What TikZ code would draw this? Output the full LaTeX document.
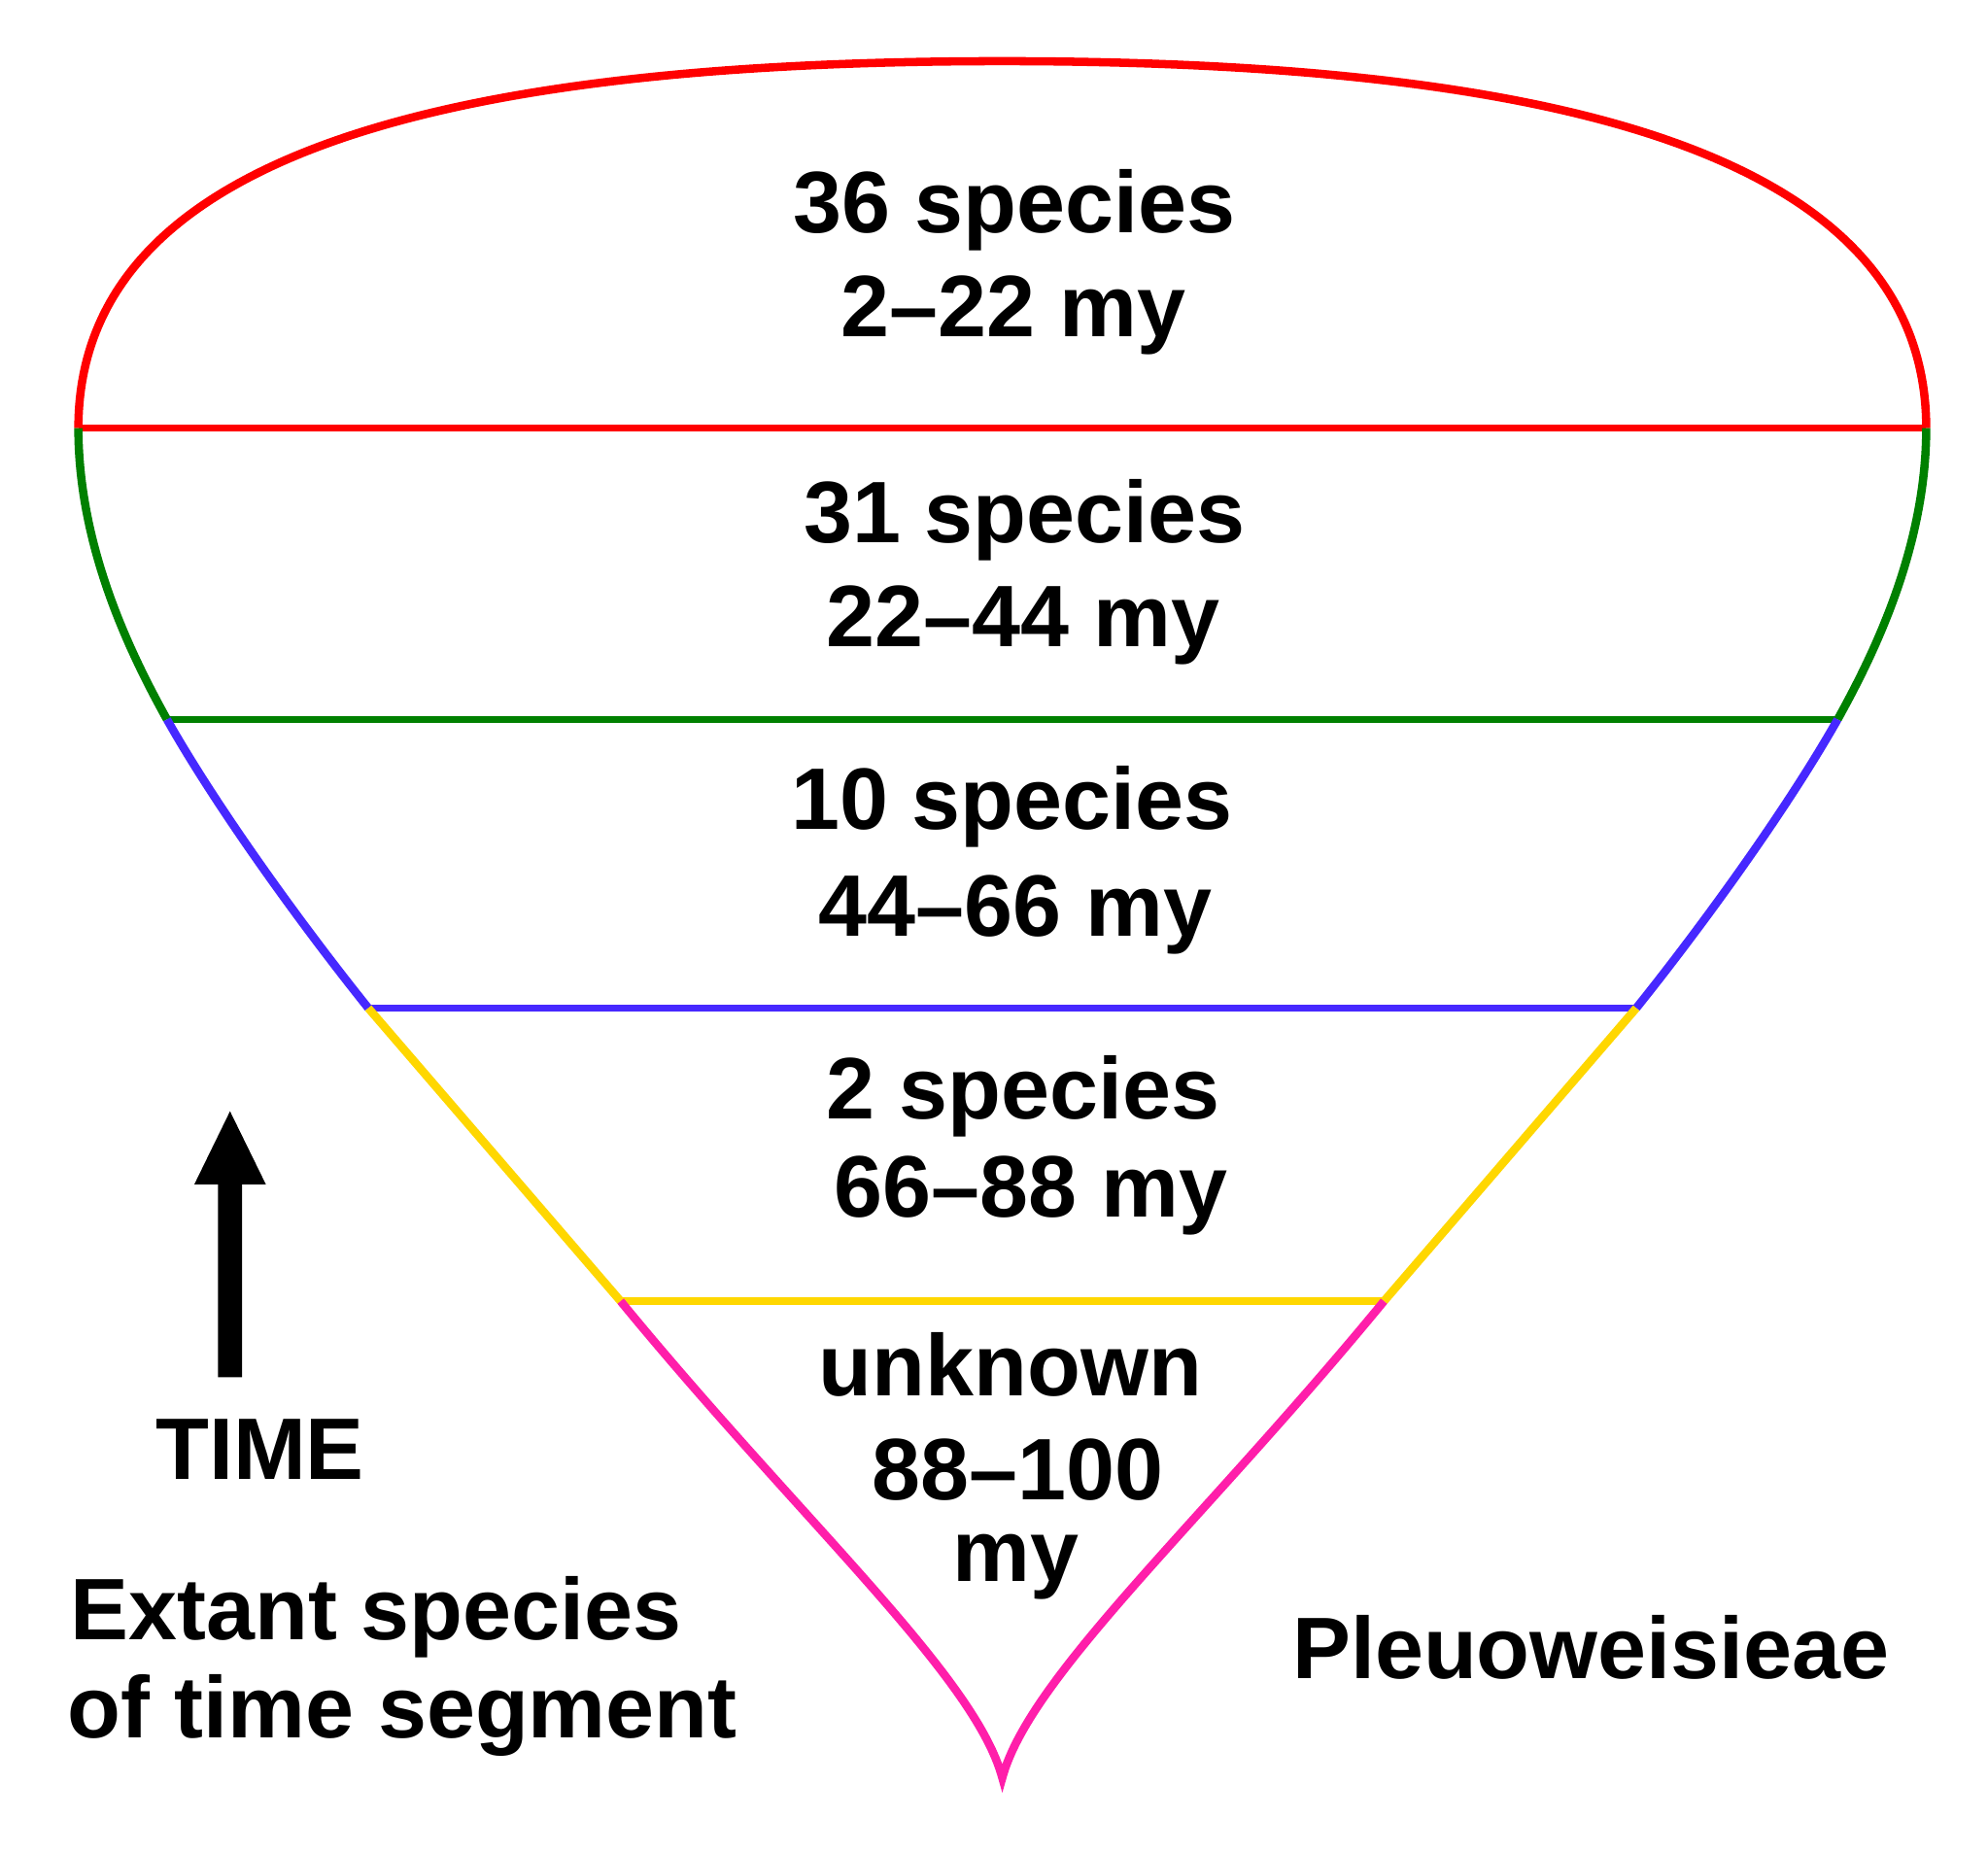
\documentclass[tikz,border=0pt]{standalone}
\usepackage{fontspec}
\setmainfont{Liberation Sans}
\definecolor{segred}{RGB}{255,0,0}
\definecolor{seggreen}{RGB}{0,128,0}
\definecolor{segblue}{RGB}{70,40,255}
\definecolor{segyellow}{RGB}{255,215,0}
\definecolor{segpink}{RGB}{255,30,170}
\begin{document}
\begin{tikzpicture}[x=1pt,y=-1pt,
  lbl/.style={font=\fontsize{68.5}{80}\selectfont\bfseries, inner sep=0pt, anchor=base},
  lbll/.style={lbl, anchor=base west},
  seg/.style={line width=6.5pt},
  band/.style={line width=5.5pt}]
\useasboundingbox (0,0) rectangle (1560,1453.3);
% corner coordinates
\coordinate (L0) at (61.5,336);
\coordinate (R0) at (1511.5,336);
\coordinate (L1) at (131,564.5);
\coordinate (R1) at (1442,564.5);
\coordinate (L2) at (289,791);
\coordinate (R2) at (1284,791);
\coordinate (L3) at (487,1021);
\coordinate (R3) at (1086,1021);
\coordinate (top) at (786.5,48);
\coordinate (tip) at (786.5,1395);
% red cap
\draw[seg, segred] (L0) .. controls (61.5,130) and (325,48) .. (top)
  .. controls (1248,48) and (1511.5,130) .. (R0);
\draw[band, segred] (L0) -- (R0);
% green
\draw[seg, seggreen] (L0) .. controls (61.5,430) and (103,514) .. (L1);
\draw[seg, seggreen] (R0) .. controls (1511.5,430) and (1470,514) .. (R1);
\draw[band, seggreen] (L1) -- (R1);
% blue
\draw[seg, segblue] (L1) .. controls (172,637) and (240,730) .. (L2);
\draw[seg, segblue] (R1) .. controls (1401,637) and (1333,730) .. (R2);
\draw[band, segblue] (L2) -- (R2);
% yellow
\draw[seg, segyellow] (L2) -- (L3);
\draw[seg, segyellow] (R2) -- (R3);
\draw[band, segyellow] (L3) -- (R3);
% pink
\draw[seg, segpink] (L3) .. controls (630,1195) and (765,1315) .. (tip)
  .. controls (808,1315) and (943,1195) .. (R3);
% labels
\node[lbl] (t1a) at (796,182.4) {36 species};
\node[lbl] (t1b) at (795.3,264) {2–22 my};
\node[lbl] (t2a) at (804,425.8) {31 species};
\node[lbl] (t2b) at (803,507.4) {22–44 my};
\node[lbl] (t3a) at (794,650.4) {10 species};
\node[lbl] (t3b) at (796.7,734.6) {44–66 my};
\node[lbl] (t4a) at (803,877.7) {2 species};
\node[lbl] (t4b) at (809,955.3) {66–88 my};
\node[lbl] (t5a) at (793,1095.1) {unknown};
\node[lbl] (t5b) at (798.7,1176.8) {88–100};
\node[lbl] (t5c) at (797,1240.9) {my};
\node[lbll] (time) at (122,1161) {TIME};
\node[lbll] (ext1) at (55,1286.7) {Extant species};
\node[lbll] (ext2) at (53,1364) {of time segment};
\node[lbll] (tribe) at (1014,1317) {Pleuoweisieae};
% time arrow
\fill[black] (171,1080.6) -- (171,929.3) -- (152.5,929.3) -- (180.5,872)
  -- (208.6,929.3) -- (190,929.3) -- (190,1080.6) -- cycle;
\end{tikzpicture}
\end{document}
